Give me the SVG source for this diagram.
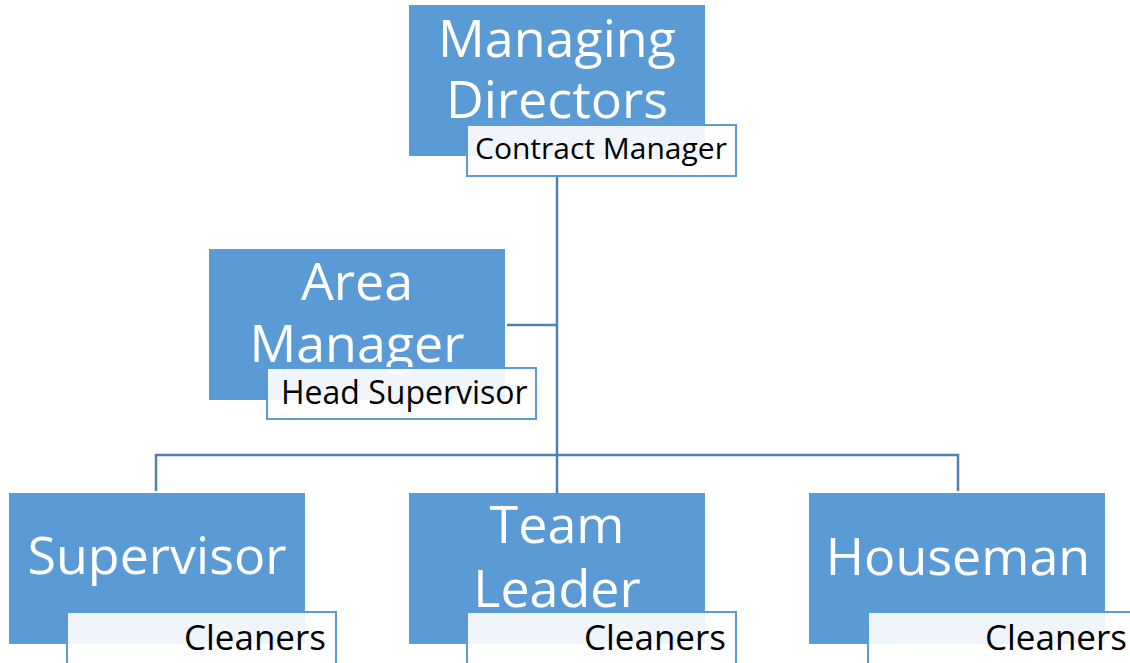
<svg xmlns="http://www.w3.org/2000/svg" width="1130" height="663" viewBox="0 0 1130 663">
<style>
.box{fill:#5B9BD5}
.lbl{fill:#ffffff;fill-opacity:0.9;stroke:#5B9BD5;stroke-width:2}
.big{font-family:"Open Sans",sans-serif;font-size:52px;fill:#ffffff;text-anchor:middle}
.small{font-family:"Open Sans",sans-serif;font-size:30px;fill:#000000}
.cl{font-family:"Open Sans",sans-serif;font-size:35px;fill:#000000;text-anchor:end}
.conn{stroke:#4F7FB3;stroke-width:2.5;fill:none}
</style>
<rect width="1130" height="663" fill="#ffffff"/>
<g id="connectors">
<path class="conn" d="M557 176 V493"/>
<path class="conn" d="M507 325 H557"/>
<path class="conn" d="M156 491 V455 H958 V491"/>
</g>
<g id="managing-directors">
<rect class="box" x="409" y="5" width="296" height="151"/>
<text class="big" x="557" y="57">Managing</text>
<text class="big" x="557" y="118">Directors</text>
<rect class="lbl" x="467" y="125" width="269" height="51"/>
<text class="small" x="475" y="159">Contract Manager</text>
</g>
<g id="area-manager">
<rect class="box" x="209" y="249" width="296" height="151"/>
<text class="big" x="357" y="300">Area</text>
<text class="big" x="357" y="362">Manager</text>
<rect class="lbl" x="267" y="368" width="269" height="51"/>
<text class="small" x="281" y="404" style="font-size:32px">Head Supervisor</text>
</g>
<g id="supervisor">
<rect class="box" x="9" y="493" width="296" height="151"/>
<text class="big" x="157" y="574">Supervisor</text>
<rect class="lbl" x="67" y="612" width="269" height="52"/>
<text class="cl" x="326" y="650">Cleaners</text>
</g>
<g id="team-leader">
<rect class="box" x="409" y="493" width="296" height="151"/>
<text class="big" x="557" y="543">Team</text>
<text class="big" x="557" y="607">Leader</text>
<rect class="lbl" x="467" y="612" width="269" height="52"/>
<text class="cl" x="726" y="650">Cleaners</text>
</g>
<g id="houseman">
<rect class="box" x="809" y="493" width="296" height="151"/>
<text class="big" x="958" y="575">Houseman</text>
<rect class="lbl" x="868" y="612" width="269" height="52"/>
<text class="cl" x="1127" y="650">Cleaners</text>
</g>
</svg>
